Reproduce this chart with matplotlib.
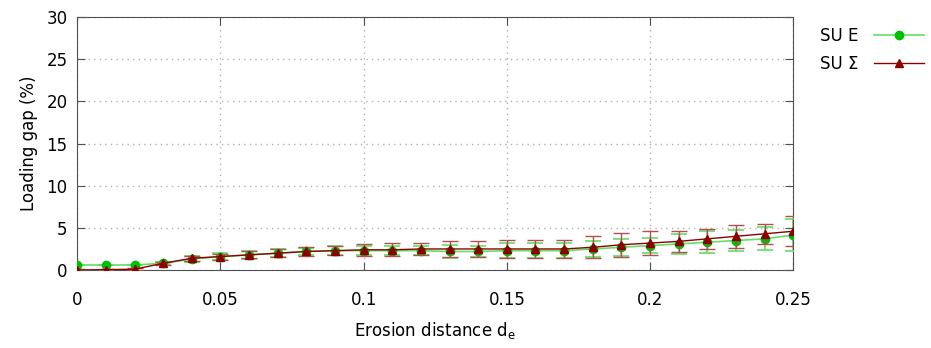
import numpy as np
import matplotlib.pyplot as plt
from matplotlib.lines import Line2D

# erosion distance d_e
d_e = [0.00, 0.01, 0.02, 0.03, 0.04, 0.05, 0.06, 0.07, 0.08, 0.09, 0.10, 0.11, 0.12,
       0.13, 0.14, 0.15, 0.16, 0.17, 0.18, 0.19, 0.20, 0.21, 0.22, 0.23, 0.24, 0.25]

# SU E
su_e = [0.6, 0.6, 0.6, 0.8, 1.3, 1.6, 1.8, 2.0, 2.2, 2.3, 2.3, 2.3, 2.3,
        2.2, 2.2, 2.3, 2.3, 2.3, 2.5, 2.7, 2.9, 3.1, 3.3, 3.5, 3.7, 4.15]
su_e_err = [0.05, 0.05, 0.05, 0.15, 0.35, 0.4, 0.45, 0.5, 0.45, 0.5, 0.5, 0.5, 0.55,
            0.75, 0.6, 0.9, 0.9, 0.9, 0.9, 1.0, 0.9, 1.2, 1.3, 1.25, 1.35, 1.95]

# SU Sigma
su_s = [0.0, 0.05, 0.1, 0.8, 1.4, 1.6, 1.8, 2.0, 2.2, 2.3, 2.4, 2.4, 2.5,
        2.5, 2.5, 2.5, 2.5, 2.5, 2.7, 3.0, 3.2, 3.4, 3.7, 4.0, 4.3, 4.6]
su_s_err = [0.1, 0.1, 0.1, 0.15, 0.3, 0.35, 0.4, 0.45, 0.5, 0.55, 0.7, 0.75, 0.75,
            0.9, 0.95, 1.1, 1.05, 1.05, 1.3, 1.4, 1.4, 1.25, 1.2, 1.4, 1.2, 1.75]

green = "#00c000"
green_line = "#66dd66"
red = "#8b0000"

fig = plt.figure(figsize=(9.31, 3.48), dpi=100)
ax = fig.add_axes([0.083, 0.224, 0.769, 0.727])

ax.errorbar(d_e, su_e, yerr=su_e_err, color=green_line, ecolor=green_line, lw=1.2,
            elinewidth=1.2, capsize=6, capthick=1.2, marker="o", ms=6,
            mfc=green, mec=green, zorder=3)
ax.errorbar(d_e, su_s, yerr=su_s_err, color=red, ecolor="#b05050", lw=1.0,
            elinewidth=1.0, capsize=6, capthick=1.0, marker="^", ms=6,
            mfc=red, mec=red, zorder=4)

ax.set_xlim(0, 0.25)
ax.set_ylim(0, 30)
ax.set_xticks([0, 0.05, 0.1, 0.15, 0.2, 0.25])
ax.set_xticklabels(["0", "0.05", "0.1", "0.15", "0.2", "0.25"])
ax.set_yticks([0, 5, 10, 15, 20, 25, 30])
ax.tick_params(direction="in", top=True, right=True, length=6, labelsize=12,
               color="#505050")
ax.tick_params(axis="x", pad=15)
ax.tick_params(axis="y", pad=7)
ax.grid(True, linestyle=(0, (1, 3)), color="#b0b0b0", lw=1)
for s in ax.spines.values():
    s.set_color("#505050")

ax.set_xlabel("Erosion distance d$_\\mathregular{e}$", fontsize=12, labelpad=8)
ax.set_ylabel("Loading gap (%)", fontsize=12, labelpad=6)

handles = [Line2D([], [], color=green_line, lw=1.2, marker="o", ms=6, mfc=green, mec=green),
           Line2D([], [], color=red, lw=1.0, marker="^", ms=6, mfc=red, mec=red)]
fig.legend(handles, ["SU E", "SU \u03a3"], loc="upper left", bbox_to_anchor=(0.865, 0.965),
           frameon=False, markerfirst=False, fontsize=12, handlelength=3.0,
           labelspacing=0.6, handletextpad=0.9)

fig.savefig("out.png", dpi=100)
